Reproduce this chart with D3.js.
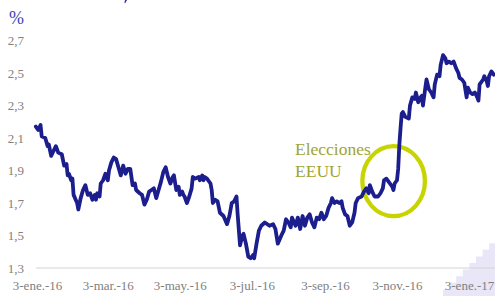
<!DOCTYPE html>
<html><head><meta charset="utf-8">
<script src="https://cdn.jsdelivr.net/npm/d3@7"></script>
<style>html,body{margin:0;padding:0;background:#fff;overflow:hidden}</style>
</head><body>
<svg id="chart" width="495" height="296"></svg>
<script>
const dates = [
"2016-01-02","2016-01-04","2016-01-06","2016-01-07","2016-01-10","2016-01-12","2016-01-13","2016-01-15","2016-01-17","2016-01-19",
"2016-01-21","2016-01-24","2016-01-26","2016-01-28","2016-01-29","2016-01-30","2016-02-01","2016-02-02","2016-02-03","2016-02-06",
"2016-02-07","2016-02-09","2016-02-11","2016-02-13","2016-02-15","2016-02-17","2016-02-19","2016-02-21","2016-02-22","2016-02-23",
"2016-02-25","2016-02-26","2016-02-28","2016-03-01","2016-03-03","2016-03-04","2016-03-06","2016-03-08","2016-03-10","2016-03-12",
"2016-03-14","2016-03-16","2016-03-18","2016-03-20","2016-03-22","2016-03-24","2016-03-26","2016-03-27","2016-03-30","2016-04-01",
"2016-04-02","2016-04-03","2016-04-05","2016-04-07","2016-04-09","2016-04-11","2016-04-13","2016-04-15","2016-04-17","2016-04-19",
"2016-04-21","2016-04-23","2016-04-25","2016-04-27","2016-04-28","2016-04-30","2016-05-02","2016-05-03","2016-05-05","2016-05-06",
"2016-05-07","2016-05-09","2016-05-11","2016-05-13","2016-05-14","2016-05-16","2016-05-19","2016-05-20","2016-05-22","2016-05-23",
"2016-05-24","2016-05-26","2016-05-29","2016-05-30","2016-05-31","2016-06-02","2016-06-04","2016-06-06","2016-06-09","2016-06-12",
"2016-06-14","2016-06-16","2016-06-18","2016-06-20","2016-06-21","2016-06-23","2016-06-25","2016-06-26","2016-06-28","2016-06-30",
"2016-07-02","2016-07-04","2016-07-05","2016-07-07","2016-07-09",
"2016-07-11","2016-07-14","2016-07-18","2016-07-21","2016-07-23","2016-07-25","2016-07-28","2016-07-30","2016-08-01","2016-08-03",
"2016-08-05","2016-08-06","2016-08-09","2016-08-11","2016-08-13","2016-08-15","2016-08-17","2016-08-19","2016-08-21","2016-08-23",
"2016-08-25","2016-08-27","2016-08-29","2016-08-31","2016-09-02","2016-09-04","2016-09-06","2016-09-08","2016-09-09","2016-09-11",
"2016-09-13","2016-09-15","2016-09-17","2016-09-18","2016-09-20","2016-09-22","2016-09-24","2016-09-26","2016-09-28","2016-09-29",
"2016-10-01","2016-10-04","2016-10-06","2016-10-08","2016-10-10","2016-10-11","2016-10-13","2016-10-15","2016-10-18","2016-10-20",
"2016-10-22","2016-10-23","2016-10-25","2016-10-27","2016-10-30","2016-10-31","2016-11-01","2016-11-03","2016-11-04","2016-11-05",
"2016-11-06","2016-11-07","2016-11-08","2016-11-10","2016-11-13","2016-11-14","2016-11-16","2016-11-18","2016-11-19","2016-11-21",
"2016-11-23","2016-11-24","2016-11-25","2016-11-27","2016-11-28","2016-11-30","2016-12-02","2016-12-04","2016-12-05","2016-12-07",
"2016-12-09","2016-12-10","2016-12-12","2016-12-14","2016-12-15","2016-12-17","2016-12-19","2016-12-21","2016-12-23","2016-12-25",
"2016-12-26","2016-12-28","2016-12-30","2017-01-01","2017-01-02","2017-01-04","2017-01-06","2017-01-08","2017-01-10","2017-01-11",
"2017-01-12","2017-01-15","2017-01-16","2017-01-18","2017-01-19","2017-01-20","2017-01-22","2017-01-24"
];
const yields = [
2.17,2.15,2.18,2.11,2.10,2.05,2.06,1.99,2.02,2.05,
2.01,2.00,1.93,1.94,1.87,1.88,1.84,1.85,1.75,1.70,
1.66,1.73,1.78,1.81,1.75,1.76,1.72,1.75,1.72,1.76,
1.74,1.82,1.84,1.88,1.84,1.90,1.95,1.98,1.97,1.92,
1.87,1.93,1.88,1.91,1.91,1.81,1.82,1.78,1.76,1.75,
1.72,1.69,1.72,1.77,1.78,1.79,1.73,1.78,1.83,1.89,
1.92,1.86,1.82,1.86,1.87,1.78,1.80,1.75,1.77,1.75,
1.74,1.70,1.74,1.79,1.86,1.85,1.86,1.84,1.87,1.84,
1.86,1.85,1.82,1.78,1.70,1.72,1.71,1.64,1.62,1.57,
1.62,1.70,1.71,1.74,1.63,1.44,1.50,1.51,1.45,1.37,
1.36,1.38,1.36,1.45,1.53,
1.56,1.58,1.56,1.57,1.54,1.45,1.50,1.53,1.60,1.58,
1.55,1.61,1.56,1.61,1.54,1.62,1.56,1.61,1.63,1.58,
1.55,1.61,1.60,1.64,1.60,1.62,1.67,1.70,1.73,1.70,
1.71,1.70,1.71,1.67,1.63,1.62,1.56,1.58,1.64,1.70,
1.73,1.74,1.77,1.79,1.76,1.81,1.77,1.74,1.74,1.76,
1.79,1.84,1.85,1.83,1.80,1.78,1.82,1.84,1.91,2.06,
2.16,2.25,2.26,2.23,2.22,2.30,2.35,2.34,2.38,2.32,
2.35,2.36,2.30,2.41,2.46,2.40,2.38,2.35,2.43,2.49,
2.48,2.55,2.61,2.59,2.56,2.57,2.56,2.57,2.53,2.50,
2.47,2.46,2.44,2.35,2.41,2.38,2.37,2.38,2.35,2.33,
2.43,2.46,2.48,2.45,2.42,2.48,2.51,2.49
];
const tickDates = ["2016-01-03","2016-03-03","2016-05-03","2016-07-03","2016-09-03","2016-11-03","2017-01-03"];
const tickLabels = ["3-ene.-16","3-mar.-16","3-may.-16","3-jul.-16","3-sep.-16","3-nov.-16","3-ene.-17"];
const yTicks = [1.3,1.5,1.7,1.9,2.1,2.3,2.5,2.7];
const yUnit = "%";
const annotationLines = ["Elecciones","EEUU"];
const electionDate = "2016-11-01";
const electionLevel = 1.835;

const parse = d3.timeParse("%Y-%m-%d");
const data = d3.zip(dates, yields).map(([d, v]) => ({date: parse(d), value: v}));

const svg = d3.select("#chart");
const x = d3.scaleTime().domain([parse("2016-01-03"), parse("2017-01-03")]).range([37, 469]);
const y = d3.scaleLinear().domain([1.3, 2.7]).range([268, 40.5]);
const serif = "'Liberation Serif','DejaVu Serif',serif";

// corner decoration (staircase)
const steps = d3.range(8);
const stairPts = [[443, 296]];
steps.forEach(i => {
  const sx = 443 + i * 6.6, sy = 296 - (i + 1) * 6.6;
  stairPts.push([sx, sy]); stairPts.push([sx + 6.6, sy]);
});
stairPts.push([495, 296]);
svg.append("path").attr("d", d3.line()(stairPts) + "Z").attr("fill", "#e8e6f7");

// fragment of the cropped title above the chart
svg.append("path").attr("d", "M125,0 L127,0 L125.2,3.2 L124.4,3 Z").attr("fill", "#2b30a0");

// baseline
svg.append("line").attr("x1", 36).attr("x2", 495).attr("y1", y(1.3)).attr("y2", y(1.3))
  .attr("stroke", "#d4d4d4").attr("stroke-width", 1.2);

// y tick labels
const fmt = v => d3.format(".1f")(v).replace(".", ",");
const yAxis = d3.axisLeft(y).tickValues(yTicks).tickFormat(fmt).tickSize(0).tickPadding(0);
const gy = svg.append("g").attr("transform", "translate(24,0)").call(yAxis);
gy.select(".domain").remove();
gy.selectAll("text").attr("font-family", serif).attr("font-size", 13).attr("fill", "#808080");

svg.append("text").attr("x", 24).attr("y", 24).attr("text-anchor", "end")
  .attr("font-family", serif).attr("font-size", 18).attr("fill", "#3a42b4").text(yUnit);

// x tick labels
const xAxis = d3.axisBottom(x).tickValues(tickDates.map(parse))
  .tickFormat((d, i) => tickLabels[i]).tickSize(0).tickPadding(0);
const gx = svg.append("g").attr("transform", "translate(0,280)").call(xAxis);
gx.select(".domain").remove();
gx.selectAll("text").attr("font-family", serif).attr("font-size", 13).attr("fill", "#808080").attr("dy", "0.75em");

// election ellipse
svg.append("ellipse").attr("cx", x(parse(electionDate)) - 1).attr("cy", y(electionLevel))
  .attr("rx", 31.3).attr("ry", 35).attr("fill", "none").attr("stroke", "#c8d400").attr("stroke-width", 4.3);

// series line
svg.append("path").datum(data)
  .attr("d", d3.line().x(d => x(d.date)).y(d => y(d.value)))
  .attr("fill", "none").attr("stroke", "#1b1e8c").attr("stroke-width", 3.8)
  .attr("stroke-linejoin", "round").attr("stroke-linecap", "round");

// annotation
const ann = svg.append("text").attr("font-family", serif).attr("font-size", 17.5).attr("fill", "#9ea532");
annotationLines.forEach((t, i) => ann.append("tspan").attr("x", 295).attr("y", 154.5 + i * 22.5).text(t));
</script>
</body></html>
